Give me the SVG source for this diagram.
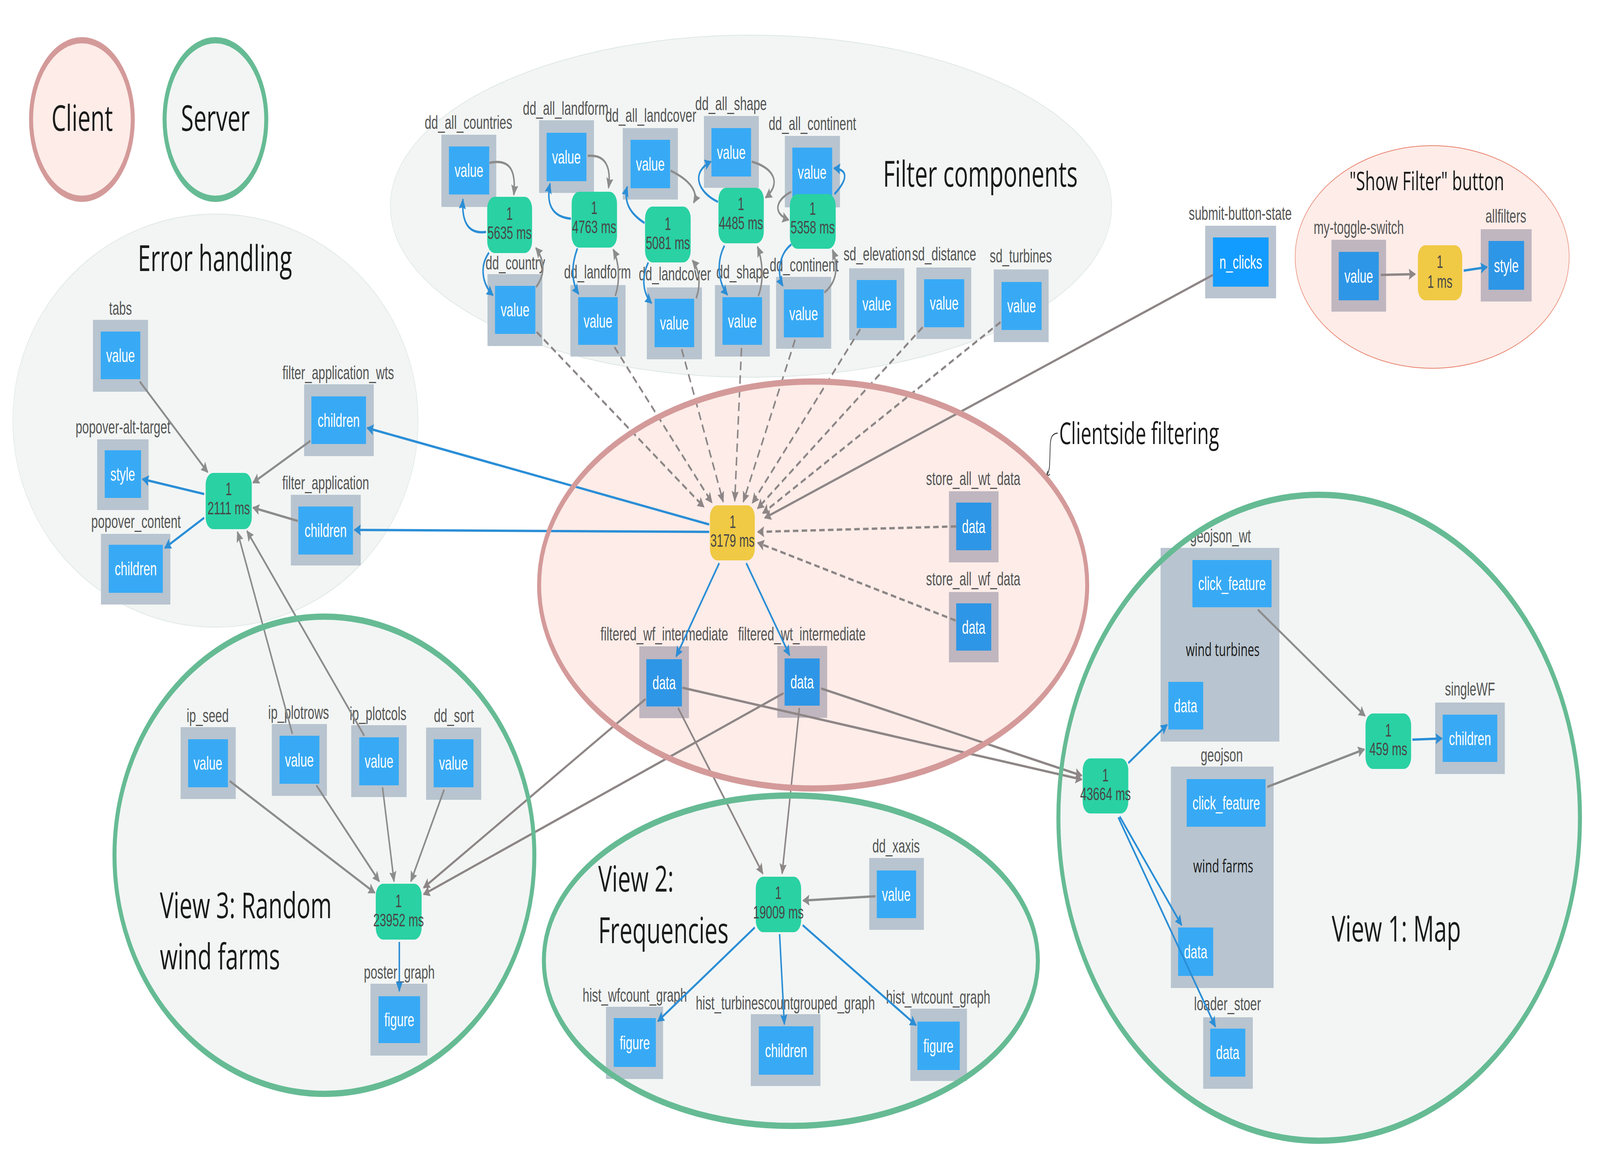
<svg xmlns="http://www.w3.org/2000/svg" width="6387" height="2996" viewBox="0 0 6387 2996" preserveAspectRatio="none" style="width:100%;height:100%;display:block">
<style>
.fr{fill:#b8c4cf}.in{fill:#38aaf5}.frp{fill:#bfb6bf}.inp{fill:#2e96e6}.fro{fill:#b9c4d0}.ino{fill:#139cff}
.cb{fill:#2ad1a3}.cy{fill:#f0c945}
.lb{font-family:"Liberation Sans",Arial,sans-serif;font-size:48px;fill:#555;text-anchor:middle}
.nt{font-family:"Liberation Sans",Arial,sans-serif;font-size:48px;fill:#fff;text-anchor:middle}
.ct{font-family:"Liberation Sans",Arial,sans-serif;font-size:46px;fill:#474747;text-anchor:middle}
.tt{font-family:"Open Sans","Noto Sans",sans-serif;font-size:92px;fill:#1a1a1a}
.st{font-family:"Open Sans","Noto Sans",sans-serif;font-size:46px;fill:#1a1a1a;text-anchor:middle}
.g{fill:none;stroke:#8c8c8c;stroke-width:6;marker-end:url(#ag)}
.gp{fill:none;stroke:#8e8686;stroke-width:6;marker-end:url(#agp)}
.b{fill:none;stroke:#2b8ed6;stroke-width:6;marker-end:url(#ab)}
.d{fill:none;stroke:#8c8686;stroke-width:6;stroke-dasharray:22 13;marker-end:url(#agp)}
.sv{fill:#f2f5f4}.cl{fill:#fdece8}
.svs{fill:none;stroke:#66bb94;stroke-width:16}.cls{fill:none;stroke:#d49a9a;stroke-width:16}
</style>
<defs>
<marker id="ag" viewBox="0 0 10 10" refX="9" refY="5" markerWidth="30" markerHeight="28" markerUnits="userSpaceOnUse" orient="auto"><path d="M0,0 L10,5 L0,10 L1.5,5 z" fill="#8c8c8c"/></marker>
<marker id="agp" viewBox="0 0 10 10" refX="9" refY="5" markerWidth="30" markerHeight="28" markerUnits="userSpaceOnUse" orient="auto"><path d="M0,0 L10,5 L0,10 L1.5,5 z" fill="#8e8686"/></marker>
<marker id="ab" viewBox="0 0 10 10" refX="9" refY="5" markerWidth="30" markerHeight="28" markerUnits="userSpaceOnUse" orient="auto"><path d="M0,0 L10,5 L0,10 L1.5,5 z" fill="#2b8ed6"/></marker>
<marker id="ak" viewBox="0 0 10 8" refX="9" refY="4" markerWidth="16" markerHeight="13" markerUnits="userSpaceOnUse" orient="auto"><path d="M0,0 L10,4 L0,8" fill="none" stroke="#222" stroke-width="1.5"/></marker>
</defs>
<rect x="0" y="0" width="6387" height="2996" fill="#ffffff"/>

<g id="regions">
<ellipse cx="860" cy="1077" rx="809" ry="529" class="sv" stroke="#dde7e3" stroke-width="2"/>
<ellipse cx="2998" cy="528" rx="1440" ry="438" class="sv" stroke="#dde7e3" stroke-width="2"/>
<ellipse cx="5717" cy="658" rx="547" ry="285" class="cl" stroke="#e8806a" stroke-width="2"/>
<ellipse cx="3246" cy="1498" rx="1094" ry="521" class="cl"/>
<ellipse cx="1295" cy="2190" rx="838" ry="611" class="sv"/>
<ellipse cx="3157" cy="2460" rx="986" ry="423" class="sv"/>
<ellipse cx="5266" cy="2094" rx="1041" ry="827" class="sv"/>
</g>

<g id="legend">
<circle cx="327" cy="306" r="203" class="cl" stroke="#d49a9a" stroke-width="16"/>
<text x="328" y="335" class="tt" text-anchor="middle">Client</text>
<circle cx="860" cy="306" r="203" class="sv" stroke="#66bb94" stroke-width="16"/>
<text x="860" y="335" class="tt" text-anchor="middle">Server</text>
</g>

<!-- Error handling -->
<g id="tabs"><text x="481" y="806" class="lb">tabs</text><rect x="371" y="819" width="220" height="184" class="fr"/><rect x="402" y="849" width="158" height="122" class="in"/><text x="481" y="927" class="nt">value</text></g>
<g id="popover-alt-target"><text x="491" y="1110" class="lb">popover-alt-target</text><rect x="388" y="1125" width="205" height="181" class="fr"/><rect x="418" y="1153" width="145" height="122" class="in"/><text x="490" y="1231" class="nt">style</text></g>
<g id="popover_content"><text x="543" y="1352" class="lb">popover_content</text><rect x="403" y="1367" width="277" height="181" class="fr"/><rect x="434" y="1395" width="216" height="123" class="in"/><text x="542" y="1473" class="nt">children</text></g>
<g id="cb_2111"><rect x="821" y="1211" width="184" height="144" rx="30" class="cb"/><text x="913" y="1268" class="ct">1</text><text x="913" y="1317" class="ct">2111 ms</text></g>
<g id="filter_application_wts"><text x="1350" y="971" class="lb">filter_application_wts</text><rect x="1214" y="984" width="278" height="184" class="fr"/><rect x="1243" y="1015" width="218" height="122" class="in"/><text x="1352" y="1093" class="nt">children</text></g>
<g id="filter_application"><text x="1300" y="1253" class="lb">filter_application</text><rect x="1161" y="1267" width="279" height="181" class="fr"/><rect x="1191" y="1297" width="218" height="123" class="in"/><text x="1300" y="1375" class="nt">children</text></g>

<!-- Filter components -->
<g id="dd_all_countries"><text x="1870" y="330" class="lb">dd_all_countries</text><rect x="1762" y="345" width="219" height="185" class="fr"/><rect x="1792" y="375" width="161" height="123" class="in"/><text x="1872" y="453" class="nt">value</text></g>
<g id="dd_country"><text x="2057" y="690" class="lb">dd_country</text><rect x="1946" y="702" width="219" height="184" class="fr"/><rect x="1976" y="732" width="161" height="123" class="in"/><text x="2056" y="810" class="nt">value</text></g>
<g id="cb_5635"><rect x="1945" y="504" width="179" height="144" rx="30" class="cb"/><text x="2034" y="563" class="ct">1</text><text x="2034" y="612" class="ct">5635 ms</text></g>
<g id="dd_all_landform"><text x="2258" y="294" class="lb">dd_all_landform</text><rect x="2152" y="308" width="219" height="186" class="fr"/><rect x="2182" y="340" width="159" height="124" class="in"/><text x="2261" y="419" class="nt">value</text></g>
<g id="dd_landform"><text x="2385" y="713" class="lb">dd_landform</text><rect x="2277" y="730" width="220" height="183" class="fr"/><rect x="2308" y="761" width="158" height="122" class="in"/><text x="2387" y="839" class="nt">value</text></g>
<g id="cb_4763"><rect x="2282" y="491" width="181" height="143" rx="30" class="cb"/><text x="2372" y="548" class="ct">1</text><text x="2372" y="597" class="ct">4763 ms</text></g>
<g id="dd_all_landcover"><text x="2598" y="312" class="lb">dd_all_landcover</text><rect x="2486" y="328" width="220" height="183" class="fr"/><rect x="2517" y="358" width="158" height="124" class="in"/><text x="2596" y="437" class="nt">value</text></g>
<g id="dd_landcover"><text x="2694" y="718" class="lb">dd_landcover</text><rect x="2582" y="736" width="220" height="184" class="fr"/><rect x="2613" y="765" width="158" height="124" class="in"/><text x="2692" y="844" class="nt">value</text></g>
<g id="cb_5081"><rect x="2575" y="529" width="182" height="143" rx="30" class="cb"/><text x="2666" y="589" class="ct">1</text><text x="2666" y="638" class="ct">5081 ms</text></g>
<g id="dd_all_shape"><text x="2918" y="282" class="lb">dd_all_shape</text><rect x="2810" y="297" width="219" height="184" class="fr"/><rect x="2840" y="328" width="158" height="124" class="in"/><text x="2919" y="407" class="nt">value</text></g>
<g id="dd_shape"><text x="2965" y="713" class="lb">dd_shape</text><rect x="2854" y="730" width="219" height="183" class="fr"/><rect x="2884" y="761" width="158" height="122" class="in"/><text x="2963" y="839" class="nt">value</text></g>
<g id="cb_4485"><rect x="2868" y="481" width="181" height="142" rx="30" class="cb"/><text x="2958" y="538" class="ct">1</text><text x="2958" y="587" class="ct">4485 ms</text></g>
<g id="dd_all_continent"><text x="3243" y="333" class="lb">dd_all_continent</text><rect x="3133" y="348" width="220" height="183" class="fr"/><rect x="3163" y="378" width="159" height="125" class="in"/><text x="3242" y="458" class="nt">value</text></g>
<g id="dd_continent"><text x="3210" y="695" class="lb">dd_continent</text><rect x="3098" y="709" width="220" height="184" class="fr"/><rect x="3129" y="741" width="159" height="123" class="in"/><text x="3208" y="820" class="nt">value</text></g>
<g id="cb_5358"><rect x="3153" y="497" width="183" height="140" rx="30" class="cb"/><text x="3244" y="550" class="ct">1</text><text x="3244" y="598" class="ct">5358 ms</text></g>
<g id="sd_elevation"><text x="3502" y="667" class="lb">sd_elevation</text><rect x="3390" y="687" width="220" height="184" class="fr"/><rect x="3420" y="717" width="159" height="123" class="in"/><text x="3500" y="795" class="nt">value</text></g>
<g id="sd_distance"><text x="3769" y="667" class="lb">sd_distance</text><rect x="3658" y="685" width="219" height="183" class="fr"/><rect x="3689" y="715" width="160" height="123" class="in"/><text x="3769" y="793" class="nt">value</text></g>
<g id="sd_turbines"><text x="4075" y="672" class="lb">sd_turbines</text><rect x="3967" y="690" width="219" height="186" class="fr"/><rect x="3998" y="722" width="160" height="123" class="in"/><text x="4078" y="800" class="nt">value</text></g>

<!-- Clientside filtering -->
<g id="cb_3179"><rect x="2834" y="1294" width="179" height="141" rx="30" class="cy"/><text x="2925" y="1352" class="ct">1</text><text x="2924" y="1400" class="ct">3179 ms</text></g>
<g id="filtered_wf_intermediate"><text x="2652" y="1640" class="lb">filtered_wf_intermediate</text><rect x="2552" y="1655" width="198" height="184" class="frp"/><rect x="2580" y="1688" width="142" height="121" class="inp"/><text x="2651" y="1765" class="nt">data</text></g>
<g id="filtered_wt_intermediate"><text x="3201" y="1640" class="lb">filtered_wt_intermediate</text><rect x="3103" y="1654" width="199" height="184" class="frp"/><rect x="3132" y="1686" width="140" height="121" class="inp"/><text x="3202" y="1763" class="nt">data</text></g>
<g id="store_all_wt_data"><text x="3885" y="1242" class="lb">store_all_wt_data</text><rect x="3788" y="1258" width="198" height="182" class="frp"/><rect x="3817" y="1287" width="140" height="122" class="inp"/><text x="3887" y="1365" class="nt">data</text></g>
<g id="store_all_wf_data"><text x="3885" y="1499" class="lb">store_all_wf_data</text><rect x="3788" y="1516" width="198" height="180" class="frp"/><rect x="3817" y="1545" width="140" height="121" class="inp"/><text x="3887" y="1623" class="nt">data</text></g>

<!-- View 3 -->
<g id="ip_seed"><text x="829" y="1849" class="lb">ip_seed</text><rect x="721" y="1862" width="220" height="184" class="fr"/><rect x="751" y="1893" width="159" height="123" class="in"/><text x="830" y="1971" class="nt">value</text></g>
<g id="ip_plotrows"><text x="1192" y="1841" class="lb">ip_plotrows</text><rect x="1085" y="1854" width="220" height="184" class="fr"/><rect x="1116" y="1884" width="159" height="123" class="in"/><text x="1195" y="1963" class="nt">value</text></g>
<g id="ip_plotcols"><text x="1509" y="1844" class="lb">ip_plotcols</text><rect x="1402" y="1857" width="221" height="184" class="fr"/><rect x="1434" y="1888" width="158" height="123" class="in"/><text x="1513" y="1966" class="nt">value</text></g>
<g id="dd_sort"><text x="1812" y="1849" class="lb">dd_sort</text><rect x="1701" y="1863" width="220" height="185" class="fr"/><rect x="1731" y="1893" width="159" height="123" class="in"/><text x="1810" y="1971" class="nt">value</text></g>
<g id="cb_23952"><rect x="1500" y="2263" width="183" height="143" rx="30" class="cb"/><text x="1591" y="2323" class="ct">1</text><text x="1591" y="2372" class="ct">23952 ms</text></g>
<g id="poster_graph"><text x="1594" y="2506" class="lb">poster_graph</text><rect x="1479" y="2519" width="227" height="184" class="fr"/><rect x="1511" y="2551" width="166" height="120" class="in"/><text x="1594" y="2628" class="nt">figure</text></g>

<!-- View 2 -->
<g id="cb_19009"><rect x="3017" y="2245" width="181" height="142" rx="30" class="cb"/><text x="3107" y="2302" class="ct">1</text><text x="3107" y="2352" class="ct">19009 ms</text></g>
<g id="dd_xaxis"><text x="3577" y="2183" class="lb">dd_xaxis</text><rect x="3470" y="2197" width="218" height="184" class="fr"/><rect x="3500" y="2229" width="157" height="122" class="in"/><text x="3578" y="2307" class="nt">value</text></g>
<g id="hist_wfcount_graph"><text x="2534" y="2565" class="lb">hist_wfcount_graph</text><rect x="2419" y="2578" width="228" height="185" class="fr"/><rect x="2450" y="2607" width="168" height="125" class="in"/><text x="2534" y="2687" class="nt">figure</text></g>
<g id="hist_turbinescountgrouped_graph"><text x="3135" y="2585" class="lb">hist_turbinescountgrouped_graph</text><rect x="2997" y="2597" width="278" height="184" class="fr"/><rect x="3029" y="2628" width="218" height="124" class="in"/><text x="3138" y="2707" class="nt">children</text></g>
<g id="hist_wtcount_graph"><text x="3745" y="2570" class="lb">hist_wtcount_graph</text><rect x="3634" y="2583" width="226" height="185" class="fr"/><rect x="3662" y="2616" width="169" height="124" class="in"/><text x="3746" y="2695" class="nt">figure</text></g>

<!-- View 1 -->
<g id="cb_43664"><rect x="4322" y="1942" width="182" height="141" rx="30" class="cb"/><text x="4413" y="2001" class="ct">1</text><text x="4413" y="2049" class="ct">43664 ms</text></g>
<g id="geojson_wt"><text x="4872" y="1389" class="lb">geojson_wt</text><rect x="4633" y="1403" width="474" height="496" class="fr"/><rect x="4760" y="1434" width="316" height="121" class="in"/><text x="4918" y="1511" class="nt">click_feature</text><text x="4881" y="1680" class="st">wind turbines</text><rect x="4664" y="1746" width="139" height="122" class="in"/><text x="4733" y="1824" class="nt">data</text></g>
<g id="geojson"><text x="4877" y="1950" class="lb">geojson</text><rect x="4674" y="1963" width="410" height="567" class="fr"/><rect x="4737" y="1995" width="315" height="122" class="in"/><text x="4895" y="2073" class="nt">click_feature</text><text x="4883" y="2234" class="st">wind farms</text><rect x="4703" y="2375" width="140" height="124" class="in"/><text x="4773" y="2454" class="nt">data</text></g>
<g id="loader_stoer"><text x="4900" y="2587" class="lb">loader_stoer</text><rect x="4803" y="2605" width="198" height="183" class="fr"/><rect x="4831" y="2634" width="140" height="123" class="in"/><text x="4901" y="2712" class="nt">data</text></g>
<g id="cb_459"><rect x="5451" y="1827" width="182" height="142" rx="30" class="cb"/><text x="5542" y="1886" class="ct">1</text><text x="5542" y="1934" class="ct">459 ms</text></g>
<g id="singleWF"><text x="5868" y="1781" class="lb">singleWF</text><rect x="5729" y="1799" width="278" height="183" class="fr"/><rect x="5759" y="1830" width="218" height="121" class="in"/><text x="5868" y="1908" class="nt">children</text></g>

<!-- Show Filter / submit -->
<g id="submit-button-state"><text x="4951" y="563" class="lb">submit-button-state</text><rect x="4811" y="578" width="283" height="186" class="fro"/><rect x="4842" y="608" width="222" height="126" class="ino"/><text x="4953" y="688" class="nt">n_clicks</text></g>
<g id="my-toggle-switch"><text x="5424" y="599" class="lb">my-toggle-switch</text><rect x="5315" y="614" width="218" height="184" class="frp"/><rect x="5344" y="645" width="160" height="124" class="inp"/><text x="5424" y="724" class="nt">value</text></g>
<g id="cb_1ms"><rect x="5660" y="628" width="177" height="141" rx="30" class="cy"/><text x="5748" y="686" class="ct">1</text><text x="5748" y="737" class="ct">1 ms</text></g>
<g id="allfilters"><text x="6011" y="570" class="lb">allfilters</text><rect x="5911" y="587" width="203" height="185" class="frp"/><rect x="5942" y="617" width="142" height="125" class="inp"/><text x="6013" y="697" class="nt">style</text></g>

<g id="connectors">
<path class="g" d="M558,977 L829,1209"/>
<path class="b" d="M815,1265 L569,1227"/>
<path class="b" d="M815,1326 L658,1403"/>
<path class="g" d="M1239,1129 L1010,1236"/>
<path class="g" d="M1189,1334 L1010,1300"/>
<path class="g" d="M1167,1879 L948,1362"/>
<path class="g" d="M1454,1884 L986,1360"/>
<path class="b" d="M2831,1343 L1466,1096"/>
<path class="b" d="M2831,1362 L1415,1357"/>

<path class="g" d="M1954,417 C2040,405 2060,440 2051,499"/>
<path class="b" d="M1940,594 C1870,600 1842,570 1848,510"/>
<path class="b" d="M1952,647 C1915,680 1922,725 1968,756"/>
<path class="g" d="M2140,735 C2180,700 2172,665 2139,635"/>
<path class="g" d="M2346,399 C2420,395 2440,430 2429,481"/>
<path class="b" d="M2279,560 C2200,555 2180,520 2196,470"/>
<path class="b" d="M2305,636 C2280,680 2280,720 2310,753"/>
<path class="g" d="M2456,758 C2478,715 2470,670 2448,639"/>
<path class="g" d="M2677,437 C2750,460 2790,490 2769,519"/>
<path class="b" d="M2573,571 C2510,545 2490,515 2504,478"/>
<path class="b" d="M2588,672 C2560,710 2565,750 2601,776"/>
<path class="g" d="M2779,764 C2800,725 2790,690 2764,667"/>
<path class="b" d="M2866,517 C2780,490 2760,440 2838,414"/>
<path class="g" d="M3001,414 C3090,430 3120,470 3056,506"/>
<path class="b" d="M2892,629 C2860,670 2865,720 2904,755"/>
<path class="g" d="M3027,758 C3050,720 3045,670 3024,632"/>
<path class="g" d="M3159,491 C3100,510 3080,545 3148,563"/>
<path class="b" d="M3331,497 C3370,470 3400,435 3329,431"/>
<path class="b" d="M3159,626 C3110,650 3100,700 3125,732"/>
<path class="g" d="M3291,749 C3345,720 3345,680 3323,640"/>

<path class="d" d="M2142,850 L2810,1298"/>
<path class="d" d="M2453,889 L2842,1287"/>
<path class="d" d="M2721,894 L2887,1285"/>
<path class="d" d="M2960,891 L2933,1283"/>
<path class="d" d="M3174,870 L2967,1285"/>
<path class="d" d="M3434,843 L3003,1288"/>
<path class="d" d="M3683,838 L3024,1302"/>
<path class="d" d="M3994,825 L3045,1314"/>
<path class="d" d="M3817,1348 L3025,1362"/>
<path class="d" d="M3815,1589 L3025,1390"/>
<path class="gp" d="M4842,704 L3053,1326"/>

<path class="b" d="M2871,1442 L2699,1681"/>
<path class="b" d="M2979,1442 L3152,1678"/>
<path class="gp" d="M2707,1813 L3045,2237"/>
<path class="gp" d="M3191,1813 L3122,2237"/>
<path class="gp" d="M2577,1790 L1691,2273"/>
<path class="gp" d="M3128,1775 L1691,2290"/>
<path class="gp" d="M2724,1761 L4318,1996"/>
<path class="gp" d="M3278,1763 L4318,1986"/>

<path class="g" d="M917,2000 L1496,2286"/>
<path class="g" d="M1263,2011 L1514,2257"/>
<path class="g" d="M1527,2016 L1573,2257"/>
<path class="g" d="M1773,2022 L1640,2257"/>
<path class="b" d="M1594,2412 L1594,2538"/>

<path class="g" d="M3495,2295 L3206,2306"/>
<path class="b" d="M3013,2375 L2626,2615"/>
<path class="b" d="M3112,2392 L3131,2623"/>
<path class="b" d="M3204,2369 L3657,2625"/>

<path class="b" d="M4504,1954 L4659,1856"/>
<path class="b" d="M4470,2091 L4717,2369"/>
<path class="b" d="M4464,2093 L4852,2629"/>
<path class="g" d="M5021,1561 L5449,1833"/>
<path class="g" d="M5059,2015 L5446,1919"/>
<path class="b" d="M5638,1894 L5756,1891"/>

<path class="gp" d="M5512,704 L5649,702"/>
<path class="b" d="M5843,693 L5936,684"/>

<path d="M4222,1109 C4196,1110 4192,1125 4192,1150 L4190,1190 C4189,1205 4184,1213 4177,1220" fill="none" stroke="#222" stroke-width="2.5" marker-end="url(#ak)"/>
</g>

<g id="region-borders">
<ellipse cx="3246" cy="1498" rx="1094" ry="521" class="cls"/>
<ellipse cx="1295" cy="2190" rx="838" ry="611" class="svs"/>
<ellipse cx="3157" cy="2460" rx="986" ry="423" class="svs"/>
<ellipse cx="5266" cy="2094" rx="1041" ry="827" class="svs"/>
</g>

<g id="titles">
<text x="858" y="694" class="tt" text-anchor="middle">Error handling</text>
<text x="3525" y="478" class="tt">Filter components</text>
<text x="4228" y="1137" class="tt" style="font-size:76px">Clientside filtering</text>
<text x="5387" y="487" class="tt" style="font-size:66px">"Show Filter" button</text>
<text x="638" y="2351" class="tt">View 3: Random</text>
<text x="638" y="2482" class="tt">wind farms</text>
<text x="2388" y="2283" class="tt">View 2:</text>
<text x="2388" y="2415" class="tt">Frequencies</text>
<text x="5316" y="2411" class="tt">View 1: Map</text>
</g>
</svg>
